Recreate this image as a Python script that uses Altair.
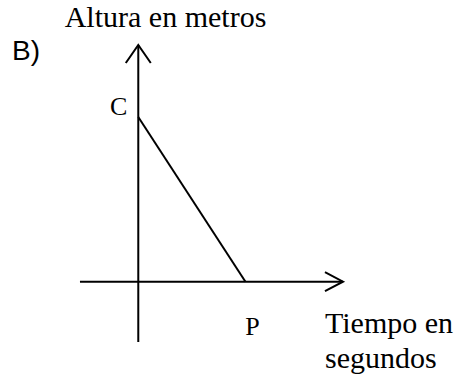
import altair as alt
import pandas as pd

# Altura frente a tiempo: parte de C sobre el eje vertical y baja en linea recta hasta P
puntos = ["C", "P"]
tiempo = [0.0, 1.0]
altura = [1.0, 0.0]

# Extension de los ejes dibujados (en las mismas unidades que los datos)
eje_tiempo = [-0.544, 1.910]
eje_altura = [-0.366, 1.437]

titulo_y = "Altura en metros"
titulo_x = "Tiempo en\nsegundos"
rotulo = "B)"

xs = alt.Scale(domain=[-1.290, 3.020], nice=False, zero=False)
ys = alt.Scale(domain=[-0.615, 1.710], nice=False, zero=False)

df = pd.DataFrame({"punto": puntos, "t": tiempo, "h": altura})
ejes = pd.DataFrame({
    "t": [eje_tiempo[0], 0.0], "t2": [eje_tiempo[1], 0.0],
    "h": [0.0, eje_altura[0]], "h2": [0.0, eje_altura[1]],
})
puntas = pd.DataFrame({"t": [eje_tiempo[1], 0.0], "h": [0.0, eje_altura[1]], "eje": ["x", "y"]})
uno = pd.DataFrame({"k": [0]})

X = lambda f: alt.X(f, scale=xs, axis=None)
Y = lambda f: alt.Y(f, scale=ys, axis=None)

lineas_eje = alt.Chart(ejes).mark_rule(color="black", strokeWidth=2).encode(
    x=X("t:Q"), x2="t2:Q", y=Y("h:Q"), y2="h2:Q"
)

punta_x = alt.Chart(puntas).transform_filter("datum.eje == 'x'").mark_point(
    shape="M-1.9,-1L0,0L-1.9,1", size=361, filled=False, color="black", strokeWidth=2, opacity=1
).encode(x=X("t:Q"), y=Y("h:Q"))

punta_y = alt.Chart(puntas).transform_filter("datum.eje == 'y'").mark_point(
    shape="M-1,1.44L0,0L1,1.44", size=625, filled=False, color="black", strokeWidth=2, opacity=1
).encode(x=X("t:Q"), y=Y("h:Q"))

recta = alt.Chart(df).mark_line(color="black", strokeWidth=2).encode(
    x=X("t:Q"), y=Y("h:Q"), order="t:Q"
)

serif = "Liberation Serif"

etiqueta_c = alt.Chart(df).transform_filter("datum.punto == 'C'").mark_text(
    font=serif, fontSize=26, align="right", baseline="alphabetic", dx=-11, dy=-2, color="black"
).encode(x=X("t:Q"), y=Y("h:Q"), text="punto:N")

etiqueta_p = alt.Chart(df).transform_filter("datum.punto == 'P'").mark_text(
    font=serif, fontSize=26, align="center", baseline="alphabetic", dx=7, dy=53, color="black"
).encode(x=X("t:Q"), y=Y("h:Q"), text="punto:N")

t_y = alt.Chart(uno).mark_text(
    font=serif, fontSize=30, align="center", baseline="alphabetic", color="black"
).encode(x=alt.value(165.5), y=alt.value(27), text=alt.value(titulo_y))

t_x = alt.Chart(uno).mark_text(
    font=serif, fontSize=30, align="left", baseline="alphabetic", color="black",
    lineBreak="\n", lineHeight=35
).encode(x=alt.value(325), y=alt.value(333), text=alt.value(titulo_x))

t_b = alt.Chart(uno).mark_text(
    font="Liberation Sans", fontSize=28, align="left", baseline="alphabetic", color="black"
).encode(x=alt.value(12), y=alt.value(60), text=alt.value(rotulo))

chart = alt.layer(
    lineas_eje, punta_x, punta_y, recta, etiqueta_c, etiqueta_p, t_y, t_x, t_b
).properties(
    width=462, height=383, padding=0, autosize="none", background="white"
).configure_view(stroke=None)

chart.save("out.html", embed_options={"renderer": "svg", "actions": False})
